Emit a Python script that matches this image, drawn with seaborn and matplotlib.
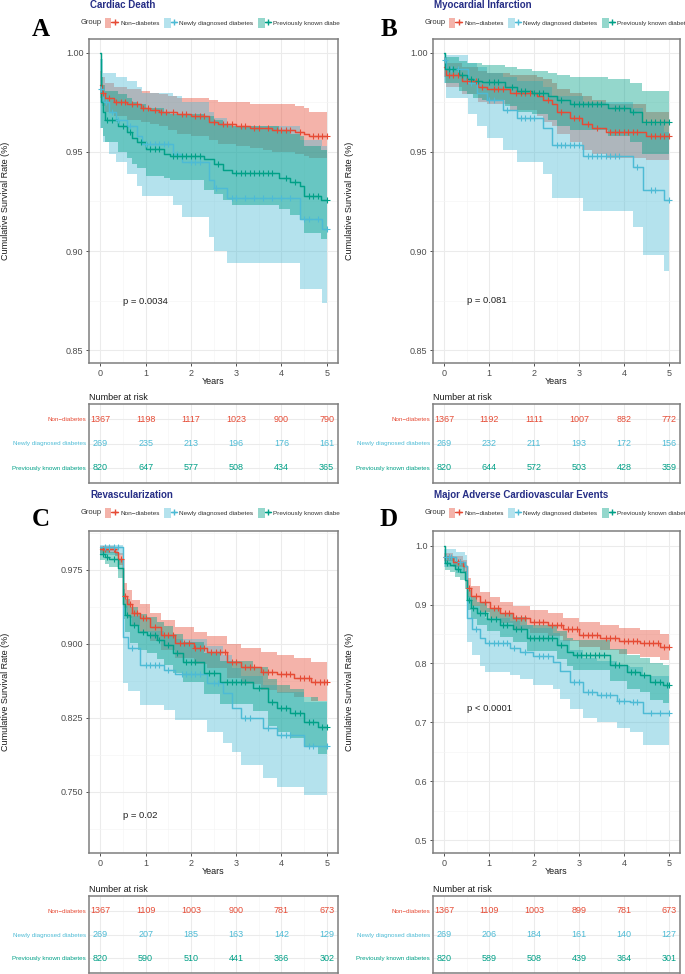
import numpy as np
import matplotlib
matplotlib.use("Agg")
import matplotlib.pyplot as plt
import seaborn as sns
from matplotlib.patches import Patch
from matplotlib.lines import Line2D
from matplotlib.legend_handler import HandlerTuple
from matplotlib.ticker import AutoMinorLocator, FormatStrFormatter
from matplotlib.transforms import Bbox, TransformedBbox

W, H = 685, 974
groups = ["Non\u2212diabetes", "Newly diagnosed diabetes", "Previously known diabetes"]
colors = ["#E64B35", "#4DBBD5", "#00A087"]
years = [0, 1, 2, 3, 4, 5]

# ---- A: Cardiac Death ----
a_non_t = [0, 0.03, 0.1, 0.3, 0.6, 0.9, 1.1, 1.3, 1.5, 1.7, 2.0, 2.4, 2.6, 3.0, 3.3, 3.6, 3.8, 4.3, 4.5, 4.6, 5.0]
a_non_s = [0.984, 0.980, 0.977, 0.975, 0.974, 0.972, 0.971, 0.970, 0.970, 0.969, 0.968, 0.965, 0.964, 0.963, 0.962, 0.962, 0.961, 0.960, 0.959, 0.958, 0.958]
a_non_hi = [0.991, 0.988, 0.985, 0.983, 0.982, 0.981, 0.980, 0.979, 0.978, 0.977, 0.977, 0.976, 0.975, 0.975, 0.974, 0.974, 0.974, 0.973, 0.972, 0.970, 0.970]
a_non_lo = [0.977, 0.973, 0.970, 0.968, 0.966, 0.965, 0.964, 0.963, 0.961, 0.959, 0.958, 0.956, 0.954, 0.953, 0.952, 0.951, 0.950, 0.949, 0.948, 0.947, 0.947]
a_non_cens = [0.05, 0.2, 0.35, 0.45, 0.55, 0.7, 0.8, 0.95, 1.05, 1.2, 1.35, 1.45, 1.6, 1.8, 1.9, 2.1, 2.2, 2.3, 2.5, 2.7,
              2.8, 2.9, 3.1, 3.2, 3.4, 3.5, 3.7, 3.9, 4.0, 4.1, 4.2, 4.4, 4.7, 4.8, 4.9, 5.0]

a_new_t = [0, 0.05, 0.2, 0.35, 0.6, 0.8, 0.93, 1.6, 1.8, 2.4, 2.5, 2.8, 4.4, 4.9, 5.0]
a_new_s = [0.982, 0.975, 0.970, 0.966, 0.963, 0.958, 0.954, 0.949, 0.945, 0.936, 0.932, 0.927, 0.916, 0.911, 0.911]
a_new_hi = [0.997, 0.990, 0.990, 0.988, 0.986, 0.983, 0.980, 0.978, 0.975, 0.970, 0.967, 0.963, 0.956, 0.953, 0.953]
a_new_lo = [0.962, 0.955, 0.949, 0.945, 0.939, 0.933, 0.928, 0.923, 0.917, 0.907, 0.900, 0.894, 0.881, 0.874, 0.874]
a_new_cens = [0.02, 0.12, 0.25, 0.4, 0.65, 1.0, 1.1, 1.2, 1.3, 1.4, 1.5, 1.7, 2.0, 2.1, 2.2, 2.55, 2.9, 3.0, 3.2, 3.4,
              3.6, 3.8, 4.0, 4.2, 4.5, 4.6, 4.8, 5.0]

a_prev_t = [0, 0.02, 0.05, 0.1, 0.4, 0.6, 0.7, 0.82, 1.0, 1.4, 1.55, 2.3, 2.5, 2.7, 2.9, 3.95, 4.2, 4.4, 4.5, 4.87, 5.0]
a_prev_s = [1.0, 0.975, 0.970, 0.966, 0.963, 0.960, 0.957, 0.955, 0.9515, 0.949, 0.948, 0.9465, 0.944, 0.941, 0.9395, 0.937, 0.935, 0.933, 0.928, 0.926, 0.926]
a_prev_hi = [1.0, 0.988, 0.984, 0.981, 0.979, 0.977, 0.975, 0.974, 0.972, 0.970, 0.969, 0.968, 0.966, 0.964, 0.963, 0.961, 0.959, 0.958, 0.953, 0.951, 0.951]
a_prev_lo = [1.0, 0.962, 0.958, 0.955, 0.950, 0.947, 0.944, 0.942, 0.938, 0.937, 0.936, 0.931, 0.929, 0.926, 0.923, 0.921, 0.918, 0.916, 0.909, 0.906, 0.906]
a_prev_cens = [0.15, 0.25, 0.5, 0.65, 0.9, 1.1, 1.2, 1.3, 1.6, 1.7, 1.8, 1.9, 2.0, 2.1, 2.2, 2.6, 3.0, 3.1, 3.2, 3.3,
               3.4, 3.5, 3.6, 3.7, 3.8, 4.1, 4.3, 4.6, 4.7, 4.8, 5.0]

a_risk_non = [1367, 1198, 1117, 1023, 900, 790]
a_risk_new = [269, 235, 213, 196, 176, 161]
a_risk_prev = [820, 647, 577, 508, 434, 365]

# ---- B: Myocardial Infarction ----
b_non_t = [0, 0.05, 0.4, 0.75, 0.95, 1.47, 2.07, 2.2, 2.4, 2.5, 2.8, 3.06, 3.3, 3.6, 4.5, 5.0]
b_non_s = [0.993, 0.989, 0.986, 0.983, 0.982, 0.980, 0.978, 0.976, 0.974, 0.970, 0.967, 0.964, 0.962, 0.960, 0.958, 0.958]
b_non_hi = [0.998, 0.995, 0.993, 0.991, 0.990, 0.989, 0.988, 0.987, 0.985, 0.982, 0.980, 0.978, 0.976, 0.974, 0.970, 0.970]
b_non_lo = [0.988, 0.983, 0.979, 0.975, 0.974, 0.971, 0.968, 0.965, 0.963, 0.959, 0.955, 0.951, 0.949, 0.947, 0.946, 0.946]
b_non_cens = [0.1, 0.2, 0.3, 0.5, 0.6, 0.7, 0.85, 1.1, 1.2, 1.3, 1.6, 1.7, 1.8, 1.9, 2.3, 2.6, 2.9, 3.0, 3.2, 3.4,
              3.7, 3.8, 3.9, 4.0, 4.1, 4.2, 4.3, 4.6, 4.7, 4.8, 4.9, 5.0]

b_new_t = [0, 0.05, 0.53, 0.73, 0.95, 1.31, 1.62, 2.2, 2.4, 3.1, 4.2, 4.42, 4.9, 5.0]
b_new_s = [0.9965, 0.992, 0.985, 0.980, 0.976, 0.971, 0.967, 0.962, 0.9535, 0.948, 0.9425, 0.931, 0.926, 0.926]
b_new_hi = [1.0, 0.999, 0.995, 0.993, 0.990, 0.988, 0.986, 0.983, 0.978, 0.975, 0.972, 0.964, 0.960, 0.960]
b_new_lo = [0.985, 0.977, 0.969, 0.963, 0.957, 0.951, 0.945, 0.939, 0.927, 0.920, 0.912, 0.898, 0.890, 0.890]
b_new_cens = [0.02, 0.15, 0.3, 0.6, 1.0, 1.1, 1.4, 1.7, 1.8, 1.9, 2.0, 2.5, 2.6, 2.7, 2.8, 2.9, 3.0, 3.2, 3.3, 3.4,
              3.5, 3.6, 3.7, 3.8, 3.9, 4.3, 4.6, 4.7, 5.0]

b_prev_t = [0, 0.02, 0.33, 0.5, 0.65, 0.85, 1.35, 1.62, 1.95, 2.3, 2.5, 2.8, 3.65, 4.13, 4.4, 5.0]
b_prev_s = [1.0, 0.992, 0.989, 0.987, 0.986, 0.9855, 0.983, 0.981, 0.980, 0.978, 0.976, 0.974, 0.972, 0.970, 0.965, 0.965]
b_prev_hi = [1.0, 0.998, 0.996, 0.995, 0.995, 0.994, 0.993, 0.992, 0.991, 0.990, 0.989, 0.988, 0.987, 0.985, 0.981, 0.981]
b_prev_lo = [1.0, 0.985, 0.981, 0.979, 0.977, 0.976, 0.973, 0.970, 0.969, 0.966, 0.963, 0.961, 0.958, 0.955, 0.949, 0.949]
b_prev_cens = [0.1, 0.2, 0.4, 0.6, 0.75, 1.0, 1.1, 1.2, 1.5, 1.7, 1.8, 2.0, 2.1, 2.2, 2.6, 2.9, 3.0, 3.1, 3.2, 3.3,
               3.4, 3.5, 3.8, 3.9, 4.0, 4.2, 4.5, 4.6, 4.7, 4.8, 4.9, 5.0]

b_risk_non = [1367, 1192, 1111, 1007, 882, 772]
b_risk_new = [269, 232, 211, 193, 172, 156]
b_risk_prev = [820, 644, 572, 503, 428, 359]

# ---- C: Revascularization ----
c_non_t = [0, 0.33, 0.4, 0.5, 0.6, 0.7, 0.88, 1.1, 1.33, 1.66, 2.06, 2.36, 2.8, 3.1, 3.54, 3.9, 4.27, 4.65, 5.0]
c_non_s = [0.996, 0.993, 0.986, 0.949, 0.9405, 0.9315, 0.926, 0.917, 0.909, 0.901, 0.896, 0.892, 0.882, 0.877, 0.872, 0.869, 0.8655, 0.8615, 0.8615]
c_non_hi = [0.999, 0.997, 0.992, 0.962, 0.955, 0.945, 0.940, 0.931, 0.924, 0.917, 0.912, 0.908, 0.900, 0.896, 0.892, 0.889, 0.886, 0.882, 0.881]
c_non_lo = [0.992, 0.989, 0.980, 0.936, 0.926, 0.918, 0.912, 0.903, 0.894, 0.886, 0.880, 0.876, 0.865, 0.859, 0.853, 0.850, 0.846, 0.842, 0.842]
c_non_cens = [0.05, 0.1, 0.2, 0.3, 0.45, 0.55, 0.65, 0.75, 0.8, 0.95, 1.0, 1.2, 1.4, 1.5, 1.6, 1.75, 1.85, 1.95, 2.1, 2.2,
              2.3, 2.45, 2.55, 2.65, 2.75, 2.9, 3.0, 3.2, 3.3, 3.4, 3.6, 3.7, 3.8, 4.0, 4.1, 4.2, 4.4, 4.5, 4.6, 4.75,
              4.85, 4.95, 5.0]

c_new_t = [0, 0.5, 0.62, 0.88, 1.4, 1.66, 2.36, 2.72, 2.9, 3.1, 3.6, 3.9, 4.5, 5.0]
c_new_s = [0.998, 0.907, 0.896, 0.879, 0.874, 0.869, 0.8605, 0.850, 0.835, 0.825, 0.815, 0.808, 0.796, 0.796]
c_new_hi = [1.0, 0.938, 0.928, 0.913, 0.909, 0.905, 0.898, 0.889, 0.876, 0.867, 0.858, 0.851, 0.841, 0.841]
c_new_lo = [0.99, 0.860, 0.852, 0.838, 0.833, 0.823, 0.811, 0.800, 0.790, 0.777, 0.764, 0.755, 0.747, 0.747]
c_new_cens = [0.1, 0.2, 0.3, 0.4, 0.7, 1.0, 1.1, 1.2, 1.3, 1.5, 1.8, 1.9, 2.0, 2.1, 2.2, 2.5, 2.6, 3.2, 3.3, 3.7,
              4.0, 4.1, 4.2, 4.6, 4.7, 5.0]

c_prev_t = [0, 0.1, 0.2, 0.4, 0.5, 0.55, 0.66, 0.84, 1.04, 1.26, 1.4, 1.6, 1.83, 2.28, 2.65, 3.38, 3.7, 3.9, 4.2, 4.5, 4.8, 5.0]
c_prev_s = [0.991, 0.988, 0.986, 0.977, 0.940, 0.929, 0.919, 0.912, 0.909, 0.904, 0.899, 0.891, 0.882, 0.8706, 0.8615, 0.855, 0.841, 0.835, 0.830, 0.821, 0.816, 0.816]
c_prev_hi = [0.997, 0.995, 0.993, 0.986, 0.956, 0.946, 0.937, 0.930, 0.927, 0.922, 0.918, 0.910, 0.902, 0.891, 0.883, 0.877, 0.864, 0.858, 0.854, 0.846, 0.842, 0.842]
c_prev_lo = [0.985, 0.981, 0.978, 0.967, 0.925, 0.912, 0.901, 0.894, 0.891, 0.885, 0.879, 0.871, 0.861, 0.849, 0.839, 0.832, 0.817, 0.811, 0.805, 0.795, 0.788, 0.788]
c_prev_cens = [0.05, 0.15, 0.3, 0.6, 0.75, 0.95, 1.1, 1.2, 1.3, 1.5, 1.7, 1.9, 2.0, 2.1, 2.4, 2.5, 2.8, 2.9, 3.0, 3.1,
               3.2, 3.5, 3.8, 4.0, 4.1, 4.3, 4.4, 4.6, 4.7, 4.9, 5.0]

c_risk_non = [1367, 1109, 1003, 900, 781, 673]
c_risk_new = [269, 207, 185, 163, 142, 129]
c_risk_prev = [820, 590, 510, 441, 366, 302]

# ---- D: Major Adverse Cardiovascular Events ----
d_non_t = [0, 0.2, 0.42, 0.5, 0.6, 0.8, 1.02, 1.24, 1.53, 1.9, 2.3, 2.65, 3.0, 3.47, 3.9, 4.36, 4.8, 5.0]
d_non_s = [0.981, 0.973, 0.965, 0.929, 0.914, 0.905, 0.895, 0.886, 0.878, 0.871, 0.866, 0.858, 0.849, 0.844, 0.838, 0.834, 0.828, 0.828]
d_non_hi = [0.988, 0.982, 0.975, 0.945, 0.931, 0.922, 0.913, 0.904, 0.897, 0.890, 0.885, 0.878, 0.870, 0.866, 0.860, 0.857, 0.850, 0.850]
d_non_lo = [0.974, 0.964, 0.955, 0.913, 0.897, 0.888, 0.877, 0.868, 0.859, 0.852, 0.846, 0.838, 0.828, 0.822, 0.816, 0.811, 0.806, 0.806]
d_non_cens = [0.05, 0.1, 0.3, 0.35, 0.55, 0.7, 0.9, 1.1, 1.2, 1.35, 1.45, 1.6, 1.7, 1.8, 2.0, 2.1, 2.2, 2.4, 2.5, 2.6,
              2.75, 2.85, 2.95, 3.1, 3.2, 3.3, 3.4, 3.6, 3.7, 3.8, 4.0, 4.1, 4.2, 4.3, 4.45, 4.55, 4.65, 4.75, 4.9, 5.0]

d_new_t = [0, 0.27, 0.47, 0.5, 0.62, 0.8, 0.91, 1.47, 1.69, 1.98, 2.43, 2.58, 2.8, 3.1, 3.4, 3.84, 4.13, 4.42, 5.0]
d_new_s = [0.980, 0.973, 0.965, 0.878, 0.858, 0.844, 0.834, 0.827, 0.820, 0.812, 0.802, 0.787, 0.768, 0.752, 0.747, 0.736, 0.734, 0.715, 0.715]
d_new_hi = [0.995, 0.990, 0.985, 0.915, 0.898, 0.887, 0.878, 0.872, 0.866, 0.860, 0.852, 0.840, 0.823, 0.810, 0.805, 0.796, 0.794, 0.778, 0.776]
d_new_lo = [0.963, 0.954, 0.943, 0.837, 0.815, 0.795, 0.786, 0.780, 0.773, 0.764, 0.757, 0.739, 0.722, 0.708, 0.700, 0.690, 0.683, 0.662, 0.660]
d_new_cens = [0.05, 0.1, 0.15, 0.35, 0.7, 1.0, 1.1, 1.2, 1.3, 1.4, 1.55, 1.8, 2.1, 2.2, 2.3, 2.9, 3.0, 3.2, 3.3, 3.5,
              3.6, 3.7, 3.9, 4.0, 4.2, 4.3, 4.6, 4.8, 5.0]

d_prev_t = [0, 0.02, 0.13, 0.24, 0.36, 0.47, 0.5, 0.6, 0.73, 0.95, 1.24, 1.53, 1.84, 2.5, 2.73, 2.87, 3.7, 4.06, 4.36, 4.58, 4.87, 5.0]
d_prev_s = [1.0, 0.971, 0.968, 0.961, 0.956, 0.942, 0.908, 0.895, 0.886, 0.875, 0.866, 0.858, 0.844, 0.832, 0.820, 0.815, 0.798, 0.786, 0.781, 0.769, 0.764, 0.764]
d_prev_hi = [1.0, 0.983, 0.980, 0.974, 0.970, 0.957, 0.925, 0.913, 0.905, 0.894, 0.886, 0.879, 0.866, 0.855, 0.844, 0.840, 0.825, 0.814, 0.810, 0.800, 0.797, 0.797]
d_prev_lo = [1.0, 0.959, 0.955, 0.947, 0.941, 0.926, 0.890, 0.876, 0.866, 0.855, 0.845, 0.836, 0.821, 0.808, 0.795, 0.789, 0.770, 0.757, 0.751, 0.738, 0.732, 0.732]
d_prev_cens = [0.07, 0.3, 0.55, 0.65, 0.8, 0.9, 1.05, 1.15, 1.3, 1.4, 1.6, 1.7, 1.9, 2.0, 2.1, 2.2, 2.3, 2.4, 2.6, 2.95,
               3.05, 3.15, 3.25, 3.35, 3.45, 3.55, 3.8, 3.9, 4.15, 4.25, 4.45, 4.7, 4.8, 4.95, 5.0]

d_risk_non = [1367, 1109, 1003, 899, 781, 673]
d_risk_new = [269, 206, 184, 161, 140, 127]
d_risk_prev = [820, 589, 508, 439, 364, 301]


sns.set_theme(style="whitegrid")
plt.rcParams["font.family"] = ["Liberation Sans", "DejaVu Sans"]

fig = plt.figure(figsize=(W / 100, H / 100), dpi=100)


def axes_px(x0, y0, x1, y1):
    return fig.add_axes([x0 / W, 1 - y1 / H, (x1 - x0) / W, (y1 - y0) / H])


def ftext(x, y, s, **kw):
    return fig.text(x / W, 1 - y / H, s, **kw)


def frame(ax):
    ax.set_facecolor("white")
    for sp in ax.spines.values():
        sp.set_visible(True)
        sp.set_color("#7F7F7F")
        sp.set_linewidth(1.1)
    ax.set_xlim(-0.25, 5.25)
    ax.set_xticks(years)
    ax.xaxis.set_minor_locator(AutoMinorLocator(2))
    ax.grid(True, which="major", color="#EBEBEB", linewidth=0.75)
    ax.grid(True, which="minor", color="#F5F5F5", linewidth=0.5)
    ax.set_axisbelow(True)


def km_plot(ax, curves, ylim, yticks, yfmt, ptxt, py):
    frame(ax)
    for (t, s, lo, hi, cs), col in zip(curves, colors):
        ax.fill_between(t, lo, hi, step="post", color=col, alpha=0.42, linewidth=0)
    for (t, s, lo, hi, cs), col in zip(curves, colors):
        sns.lineplot(x=t, y=s, ax=ax, color=col, linewidth=1.05, drawstyle="steps-post", estimator=None)
        idx = np.searchsorted(t, cs, side="right") - 1
        ax.scatter(cs, np.asarray(s)[idx], marker="+", s=20, color=col, linewidths=0.8, zorder=4)
    ax.set_ylim(*ylim)
    ax.set_yticks(yticks)
    ax.yaxis.set_major_formatter(FormatStrFormatter(yfmt))
    ax.yaxis.set_minor_locator(AutoMinorLocator(2))
    ax.tick_params(which="major", length=2.5, width=0.6, color="#333333", labelsize=6.5,
                   labelcolor="#4D4D4D", pad=1.5, left=True, bottom=True)
    ax.tick_params(which="minor", length=0)
    ax.set_xlabel("")
    ax.set_ylabel("")
    ax.text(0.5, py, ptxt, fontsize=6.8, color="#222222", ha="left", va="center")


def risk_table(ax, risks):
    frame(ax)
    for row, (vals, col) in enumerate(zip(risks, colors)):
        for yr, n in zip(years, vals):
            ax.text(yr, 2 - row, str(n), color=col, fontsize=6.5, ha="center", va="center")
    ax.set_ylim(-0.625, 2.625)
    ax.set_xticklabels([])
    ax.set_yticks([2, 1, 0])
    ax.set_yticklabels(groups, fontsize=4.5)
    for lab, col in zip(ax.get_yticklabels(), colors):
        lab.set_color(col)
    ax.tick_params(length=0, pad=2)


def legend_row(gx, lx, ly, clip_x=None):
    ftext(gx, ly, "Group", fontsize=5.4, color="#333333", ha="left", va="center")
    handles = [(Patch(facecolor=c, alpha=0.42, edgecolor="none"),
                Line2D([], [], color=c, marker="+", markersize=4.5, linewidth=1.0)) for c in colors]
    leg = fig.legend(handles, groups, loc="center left", bbox_to_anchor=(lx / W, 1 - ly / H),
                     ncol=3, frameon=False, fontsize=4.6, handlelength=2.0, handleheight=1.9,
                     handletextpad=0.35, columnspacing=0.75, borderpad=0, borderaxespad=0,
                     handler_map={tuple: HandlerTuple(ndivide=None, pad=0)})
    for tx in leg.get_texts():
        tx.set_color("#333333")
        if clip_x is not None:
            tx.set_clip_box(TransformedBbox(Bbox.from_extents(0, 0, clip_x / W, 1), fig.transFigure))
            tx.set_clip_on(True)


def panel(x0, x1, y0, y1, ty0, ty1, curves, risks, ylim, yticks, yfmt, ptxt, py,
          title, letter, letter_x, top, group_x, leg_x, ylab_x, clip_x):
    ax = axes_px(x0, y0, x1, y1)
    km_plot(ax, curves, ylim, yticks, yfmt, ptxt, py)
    tab = axes_px(x0, ty0, x1, ty1)
    risk_table(tab, risks)
    ftext(letter_x, top + 25, letter, fontsize=18, fontweight="bold",
          family="Liberation Serif", ha="center", va="center", color="black")
    ftext(x0 + 1, top + 1, title, fontsize=7, fontweight="bold", color="#262E86", ha="left", va="center")
    legend_row(group_x, leg_x, top + 19, clip_x)
    ftext(ylab_x, (y0 + y1) / 2, "Cumulative Survival Rate (%)", fontsize=6.5, rotation=90,
          ha="center", va="center", color="#1A1A1A")
    ftext((x0 + x1) / 2, y1 + 18, "Years", fontsize=6.5, ha="center", va="center", color="#1A1A1A")
    ftext(x0, ty0 - 7, "Number at risk", fontsize=6.5, ha="left", va="center", color="#1A1A1A")


panel(89, 338, 39, 363, 404, 483,
      [(a_non_t, a_non_s, a_non_lo, a_non_hi, a_non_cens),
       (a_new_t, a_new_s, a_new_lo, a_new_hi, a_new_cens),
       (a_prev_t, a_prev_s, a_prev_lo, a_prev_hi, a_prev_cens)],
      [a_risk_non, a_risk_new, a_risk_prev],
      (0.8435, 1.007), [0.85, 0.90, 0.95, 1.00], "%.2f", "p = 0.0034", 0.8747,
      "Cardiac Death", "A", 41, 4, 81, 105, 6, 340)

panel(433, 680, 39, 363, 404, 483,
      [(b_non_t, b_non_s, b_non_lo, b_non_hi, b_non_cens),
       (b_new_t, b_new_s, b_new_lo, b_new_hi, b_new_cens),
       (b_prev_t, b_prev_s, b_prev_lo, b_prev_hi, b_prev_cens)],
      [b_risk_non, b_risk_new, b_risk_prev],
      (0.8435, 1.007), [0.85, 0.90, 0.95, 1.00], "%.2f", "p = 0.081", 0.875,
      "Myocardial Infarction", "B", 389, 4, 425, 449, 349, None)

panel(89, 338, 531, 853, 896, 973,
      [(c_non_t, c_non_s, c_non_lo, c_non_hi, c_non_cens),
       (c_new_t, c_new_s, c_new_lo, c_new_hi, c_new_cens),
       (c_prev_t, c_prev_s, c_prev_lo, c_prev_hi, c_prev_cens)],
      [c_risk_non, c_risk_new, c_risk_prev],
      (0.688, 1.0145), [0.750, 0.825, 0.900, 0.975], "%.3f", "p = 0.02", 0.7257,
      "Revascularization", "C", 41, 494, 81, 105, 6, 340)

panel(433, 680, 531, 853, 896, 973,
      [(d_non_t, d_non_s, d_non_lo, d_non_hi, d_non_cens),
       (d_new_t, d_new_s, d_new_lo, d_new_hi, d_new_cens),
       (d_prev_t, d_prev_s, d_prev_lo, d_prev_hi, d_prev_cens)],
      [d_risk_non, d_risk_new, d_risk_prev],
      (0.478, 1.025), [0.5, 0.6, 0.7, 0.8, 0.9, 1.0], "%.1f", "p < 0.0001", 0.724,
      "Major Adverse Cardiovascular Events", "D", 389, 494, 425, 449, 349, None)

fig.savefig("out.png", dpi=100, facecolor="white")
